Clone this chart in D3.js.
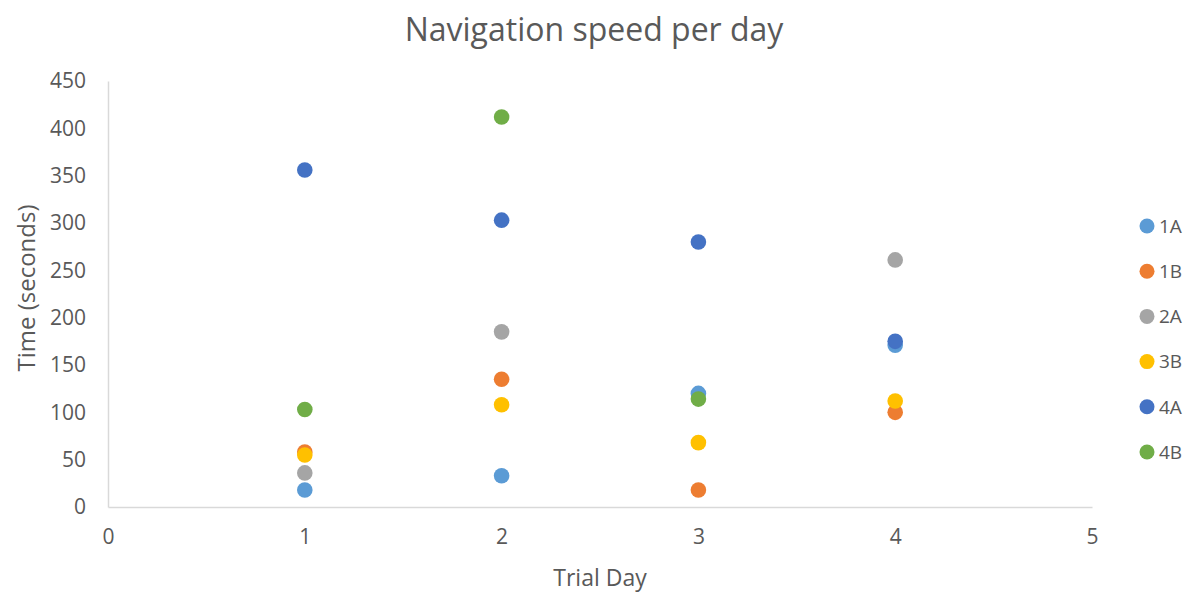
<!DOCTYPE html>
<html>
<head>
<meta charset="utf-8">
<script src="https://cdn.jsdelivr.net/npm/d3@7"></script>
<style>
  body { margin: 0; background: #fff; }
  svg text { font-family: "Open Sans", sans-serif; fill: #595959; }
</style>
</head>
<body>
<svg id="chart" width="1184" height="594"></svg>
<script>
// data
var series = ['1A', '1B', '2A', '3B', '4A', '4B'];
var days = [1, 2, 3, 4];
var s1A = [18, 33, 120, 171];
var s1B = [58, 135, 18, 100];
var s2A = [36, 185, null, 261];
var s3B = [55, 108, 68, 112];
var s4A = [356, 303, 280, 175];
var s4B = [103, 412, 114, null];
var colors = ['#5B9BD5', '#ED7D31', '#A5A5A5', '#FFC000', '#4472C4', '#70AD47'];
var xTicks = [0, 1, 2, 3, 4, 5];
var yTicks = [0, 50, 100, 150, 200, 250, 300, 350, 400, 450];

var svg = d3.select('#chart');
var margin = { left: 108, right: 92, top: 81, bottom: 87 };
var W = 1184, H = 594;

var x = d3.scaleLinear().domain([0, 5]).range([margin.left, W - margin.right]);
var y = d3.scaleLinear().domain([0, 450]).range([H - margin.bottom, margin.top]);

// axes
var yAxis = d3.axisLeft(y).tickValues(yTicks).tickSize(0).tickPadding(22);
var gy = svg.append('g').attr('transform', 'translate(' + margin.left + ',0)').call(yAxis);
gy.select('.domain').attr('stroke', '#d9d9d9').attr('stroke-width', 1.5);
gy.selectAll('text').style('font-size', '21px').attr('fill', '#595959');

var xAxis = d3.axisBottom(x).tickValues(xTicks).tickFormat(d3.format('d')).tickSize(0).tickPadding(22);
var gx = svg.append('g').attr('transform', 'translate(0,' + y(0) + ')').call(xAxis);
gx.select('.domain').attr('stroke', '#d9d9d9').attr('stroke-width', 1.5);
gx.selectAll('text').style('font-size', '21px').attr('fill', '#595959');

// points (null = no point in the picture)
var all = [s1A, s1B, s2A, s3B, s4A, s4B];
series.forEach(function(name, i){
  var pts = days.map(function(d, j){ return { day: d, v: all[i][j] }; })
    .filter(function(p){ return p.v !== null; });
  svg.append('g').selectAll('circle')
    .data(pts).enter().append('circle')
    .attr('cx', function(p){ return x(p.day); })
    .attr('cy', function(p){ return y(p.v); })
    .attr('r', 7.8)
    .attr('fill', colors[i]);
});

// legend
var legend = svg.append('g').attr('transform', 'translate(1147,226)');
series.forEach(function(name, i){
  var row = legend.append('g').attr('transform', 'translate(0,' + (i * 45.2) + ')');
  row.append('circle').attr('r', 7.5).attr('fill', colors[i]);
  row.append('text').attr('x', 12).attr('dy', '0.36em').style('font-size', '19px').text(name);
});

// titles
svg.append('text').attr('x', 594).attr('y', 41).attr('text-anchor', 'middle')
  .style('font-size', '32px').text('Navigation speed per day');
svg.append('text').attr('x', 600).attr('y', 586).attr('text-anchor', 'middle')
  .style('font-size', '23px').text('Trial Day');
svg.append('text').attr('transform', 'translate(35,288) rotate(-90)').attr('text-anchor', 'middle')
  .style('font-size', '24px').text('Time (seconds)');
</script>
</body>
</html>
